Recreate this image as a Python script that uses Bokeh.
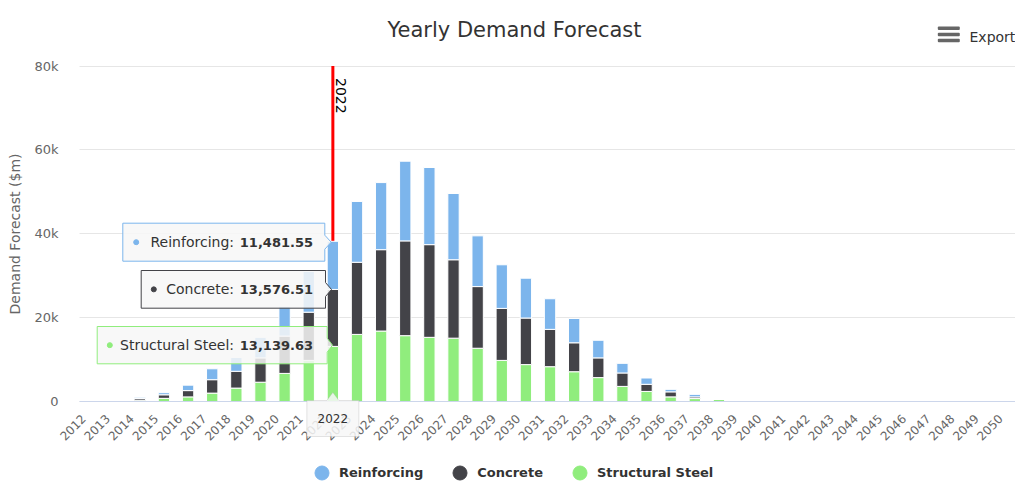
from math import pi
from bokeh.plotting import figure
from bokeh.models import (ColumnDataSource, Range1d, FixedTicker, Legend, LegendItem,
                          Label, PolyAnnotation, BoxAnnotation)
from bokeh.core.properties import value
from bokeh.embed import file_html
from bokeh.resources import INLINE

# ---------------- data ----------------
years = [str(y) for y in range(2012, 2051)]
reinforcing = [0, 0, 300, 500, 1300, 2600, 3300, 4900, 7100, 9700, 11481.55, 14500,
               16000, 19000, 18400, 15800, 12100, 10400, 9500, 7300, 5800, 4200, 2300,
               1500, 600, 600, 0] + [0] * 12
concrete = [0, 0, 400, 850, 1500, 3200, 4000, 5800, 8900, 11500, 13576.51, 17200,
            19400, 22600, 22100, 18700, 14700, 12400, 11100, 8900, 6900, 4700, 3200,
            1700, 1200, 400, 0] + [0] * 12
steel = [0, 0, 300, 750, 1100, 2000, 3200, 4600, 6700, 9800, 13139.63, 16000,
         16800, 15700, 15300, 15100, 12700, 9800, 8800, 8300, 7100, 5700, 3600,
         2400, 1100, 700, 500] + [0] * 12
series_names = ["Reinforcing", "Concrete", "Structural Steel"]
y_ticks = [0, 20000, 40000, 60000, 80000]
y_tick_labels = ["0", "20k", "40k", "60k", "80k"]
plot_line_year = "2022"
hover_year = "2022"

# ---------------- style / layout ----------------
BLUE, DARK, GREEN = "#7cb5ec", "#434348", "#90ed7d"
FONT = "DejaVu Sans"
YMAX = 80000
W, H = 1015, 483                # figure size (frame covers the whole canvas)
X0, CW = 79, 24.13              # px where the first category starts, px per category
Y0, YTOP = 401, 65.5            # px of value 0 and of YMAX
KPX = YMAX / (Y0 - YTOP)        # value per px
LABEL_SHIFT = -8 / CW           # rotated tick labels sit a little left of the centre


def cx(px):
    return (px - X0) / CW


def vy(py):
    return (Y0 - py) * KPX


n = len(years)
centers = [i + 0.5 for i in range(n)]

p = figure(x_range=Range1d(cx(0), cx(W)), y_range=Range1d(vy(H), vy(0)),
           width=W, height=H, output_backend="svg", toolbar_location=None,
           title=None, min_border=0)
p.outline_line_color = None
p.background_fill_color = "white"
p.xgrid.grid_line_color = None
p.ygrid.grid_line_color = "#e6e6e6"
p.ygrid.ticker = FixedTicker(ticks=y_ticks)
p.ygrid.bounds = (0, YMAX)
p.ygrid.cross_bounds = (0, n)

ya = p.yaxis[0]
ya.fixed_location = 0
ya.bounds = (0, YMAX)
ya.ticker = FixedTicker(ticks=y_ticks)
ya.major_label_overrides = {t: l for t, l in zip(y_ticks, y_tick_labels)}
ya.axis_line_color = None
ya.major_tick_line_color = None
ya.minor_tick_line_color = None
ya.major_tick_out = 0
ya.major_label_standoff = 21
ya.major_label_text_font = FONT
ya.major_label_text_font_size = "13px"
ya.major_label_text_color = "#666666"
ya.axis_label = "Demand Forecast ($m)"
ya.axis_label_text_font = FONT
ya.axis_label_text_font_size = "14px"
ya.axis_label_text_font_style = "normal"
ya.axis_label_text_color = "#666666"
ya.axis_label_standoff = 8

xa = p.xaxis[0]
xa.fixed_location = 0
xa.bounds = (0, n)
tick_pos = [c + LABEL_SHIFT for c in centers]
xa.ticker = FixedTicker(ticks=tick_pos)
xa.major_label_overrides = {t: y for t, y in zip(tick_pos, years)}
xa.major_label_orientation = pi / 4
xa.major_tick_line_color = None
xa.minor_tick_line_color = None
xa.major_tick_out = 0
xa.axis_line_color = "#ccd6eb"
xa.major_label_text_font = FONT
xa.major_label_text_font_size = "12px"
xa.major_label_text_color = "#666666"
xa.major_label_standoff = 15

# red plot line (behind bars)
px_line = years.index(plot_line_year) + 0.5
p.segment(x0=[px_line], y0=[0], x1=[px_line], y1=[YMAX], line_color="red", line_width=3)

src = ColumnDataSource(dict(x=centers, year=years, steel=steel, concrete=concrete,
                            reinforcing=reinforcing))
p.vbar_stack(["steel", "concrete", "reinforcing"], x="x", width=0.47, source=src,
             fill_color=[GREEN, DARK, BLUE], line_color="white", line_width=1)

# plot line label
p.add_layout(Label(x=px_line, y=YMAX, x_offset=3, y_offset=-12,
                   text=plot_line_year, angle=-pi / 2, text_align="left",
                   text_baseline="bottom", text_font=FONT, text_font_size="14px",
                   text_color="black"))

# ---------- split tooltip ----------
tips = [  # (L, R, T, B, tip_x, tip_y, dot_x, color, label, value)
    (122.3, 324.3, 222.7, 260.7, 330.7, 241.7, 135.7, BLUE, "Reinforcing:", reinforcing[10]),
    (140.7, 325.0, 270.0, 307.7, 331.0, 289.0, 153.3, DARK, "Concrete:", concrete[10]),
    (96.7, 326.7, 326.0, 363.3, 332.0, 344.7, 109.3, GREEN, "Structural Steel:", steel[10]),
]
xs, ys, lc = [], [], []
for (L, R, T, B, tx, ty, dx, col, lab, val) in tips:
    pts = [(L, T), (R, T), (R, ty - 7), (tx, ty), (R, ty + 7), (R, B), (L, B)]
    xs.append([cx(a) for a, b in pts])
    ys.append([vy(b) for a, b in pts])
    lc.append(col)
p.patches(xs=xs, ys=ys, fill_color="#f7f7f7", fill_alpha=0.85, line_color=lc,
          line_width=1)
p.scatter(x=[cx(t[6]) for t in tips], y=[vy((t[2] + t[3]) / 2) for t in tips],
          size=5, color=[t[7] for t in tips], marker="circle")
p.text(x=[cx(233.5)] * 3, y=[vy((t[2] + t[3]) / 2) for t in tips],
       text=[t[8] for t in tips], text_align="right", text_baseline="middle",
       text_font=value(FONT), text_font_size="14px", text_color="#333333")
p.text(x=[cx(312.5)] * 3, y=[vy((t[2] + t[3]) / 2) for t in tips],
       text=[f"{t[9]:,.2f}" for t in tips], text_align="right",
       text_baseline="middle", text_font=value(FONT), text_font_size="13px",
       text_font_style="bold", text_color="#333333")

# x-axis tooltip (drawn above the axis labels)
hx = years.index(hover_year) + 0.5
p.add_layout(PolyAnnotation(
    xs=[hx - 26 / CW, hx - 6 / CW, hx, hx + 6 / CW, hx + 26 / CW, hx + 26 / CW, hx - 26 / CW],
    ys=[vy(400), vy(400), vy(392), vy(400), vy(400), vy(436), vy(436)],
    fill_color="#f7f7f7", fill_alpha=0.85, line_color="#aaaaaa", line_width=1))
p.add_layout(Label(x=hx, y=vy(418), text=hover_year,
                   text_align="center", text_baseline="middle", text_font=FONT,
                   text_font_size="12px", text_color="#333333"))

# ---------- title & export ----------
p.add_layout(Label(x=cx(514), y=vy(29), text="Yearly Demand Forecast",
                   text_align="center", text_baseline="middle", text_font=FONT,
                   text_font_size="21px", text_color="#333333"))
p.add_layout(Label(x=cx(969), y=vy(36), text="Export", text_align="left",
                   text_baseline="middle", text_font=FONT, text_font_size="14px",
                   text_color="#333333"))
for top in (26, 32.3, 38.3):   # hamburger menu icon bars
    p.add_layout(BoxAnnotation(left=cx(937.3), right=cx(959.3), top=vy(top),
                               bottom=vy(top + 3.4), fill_color="#666666",
                               fill_alpha=1, line_color=None, border_radius=1))

# ---------- legend ----------
nan = float("nan")
rs = [p.scatter(x=[nan], y=[nan], marker="circle", size=12, color=c)
      for c in (BLUE, DARK, GREEN)]
legend = Legend(items=[LegendItem(label=nm, renderers=[r]) for nm, r in zip(series_names, rs)],
                orientation="horizontal", location=(304, -7),
                border_line_color=None, background_fill_alpha=0,
                label_text_font=FONT, label_text_font_style="bold",
                label_text_font_size="13px", label_text_color="#333333",
                glyph_width=35, glyph_height=35, label_standoff=0, spacing=19,
                padding=0, margin=0)
p.add_layout(legend, "center")

open("out.html", "w").write(file_html(p, INLINE))
